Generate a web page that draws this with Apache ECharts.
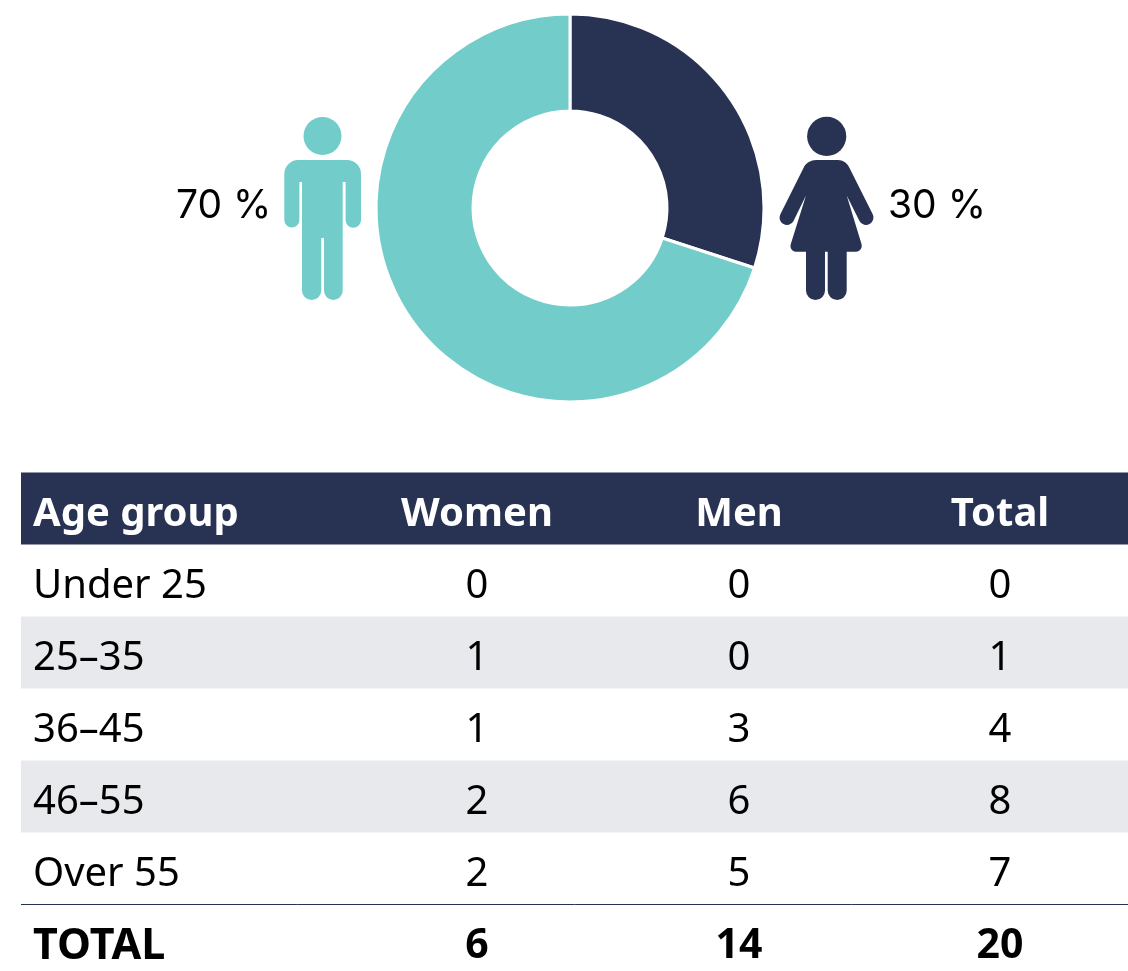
<!DOCTYPE html>
<html><head><meta charset="utf-8">
<style>html,body{margin:0;padding:0;background:#fff}#c{width:1128px;height:971px}</style>
<script src="https://cdn.jsdelivr.net/npm/echarts@6/dist/echarts.min.js"></script>
</head><body><div id="c"></div>
<script>
const shareNames = ['Women', 'Men'];
const shareValues = [30, 70];
const columns = ['Age group', 'Women', 'Men', 'Total'];
const ageGroups = ['Under 25', '25–35', '36–45', '46–55', 'Over 55'];
const women = [0, 1, 1, 2, 2];
const men = [0, 0, 3, 6, 5];
const totals = [0, 1, 4, 8, 7];
const totalRow = ['TOTAL', 6, 14, 20];

const NAVY = '#283252', TEAL = '#72CDCA', STRIPE = '#E8E9ED';
const FONT = '"Noto Sans", sans-serif';
const PCT_FONT = 'Inter, sans-serif';
const rowEdges = [472.5, 544.5, 616.5, 688.5, 760.5, 832.5, 904.5, 976];
const colX = [33, 477, 739, 1000];
const manPath = 'M298 160H347A14 14 0 0 1 361 174V220A7.7 7.7 0 0 1 345.6 220V182H342.7V290.6A9.35 9.35 0 0 1 324 290.6V238H321.3V290.4A9.65 9.65 0 0 1 302 290.4V182H299.4V220A7.55 7.55 0 0 1 284.3 220V174A14 14 0 0 1 298 160Z';
const womanPath = 'M816 160H838C843 160 847 163 849 167L872.6 214C874.5 218 873 222 869.5 224C866 226 861.5 224.5 859.5 221L846.7 195.5L861.5 244C862.5 248 860 251.7 856 251.7H846.7V290.5A9.5 9.5 0 0 1 827.7 290.5V251.7H825V290.5A9.5 9.5 0 0 1 806 290.5V251.7H796C792 251.7 789.7 248 790.8 244L806 195.5L793.5 221C791.5 224.5 787 226 783.5 224C780 222 778.5 218 780.5 214L804 167C806 163 811 160 816 160Z';

const g = [];
function rect(y0, y1, fill) {
  g.push({ type: 'rect', silent: true, shape: { x: 21, y: y0, width: 1107, height: y1 - y0 }, style: { fill } });
}
function text(str, x, yc, align, font, size, weight, fill) {
  g.push({ type: 'text', silent: true, x, y: yc, style: { text: String(str), fill: fill || '#000', font: `${weight} ${size}px ${font}`, align, verticalAlign: 'middle' } });
}
g.push({ type: 'circle', silent: true, shape: { cx: 322.5, cy: 136, r: 19 }, style: { fill: TEAL } });
g.push({ type: 'circle', silent: true, shape: { cx: 826.7, cy: 136.3, r: 19.6 }, style: { fill: NAVY } });
text(shareValues[1] + ' %', 176, 206, 'left', PCT_FONT, 39, 400);
text(shareValues[0] + ' %', 888, 206, 'left', PCT_FONT, 39, 400);

rect(rowEdges[0], rowEdges[1], NAVY);
rect(rowEdges[2], rowEdges[3], STRIPE);
rect(rowEdges[4], rowEdges[5], STRIPE);
g.push({ type: 'line', silent: true, shape: { x1: 21, y1: 904.5, x2: 1128, y2: 904.5 }, style: { stroke: NAVY, lineWidth: 1 } });

const mid = i => (rowEdges[i] + rowEdges[i + 1]) / 2 + 6;
columns.forEach((c, j) => text(c, colX[j], mid(0), j ? 'center' : 'left', FONT, 40, 700, '#fff'));
ageGroups.forEach((a, i) => {
  const yc = mid(i + 1);
  text(a, colX[0], yc, 'left', FONT, 40, 400);
  [women, men, totals].forEach((arr, j) => text(arr[i], colX[j + 1], yc, 'center', FONT, 40, 400));
});
totalRow.forEach((v, j) => text(v, colX[j], 946.5, j ? 'center' : 'left', FONT, j ? 41 : 43, 700));

const chart = echarts.init(document.getElementById('c'), null, { renderer: 'canvas' });
chart.setOption({
  animation: false,
  backgroundColor: '#fff',
  series: [{
    type: 'pie',
    center: [570, 208],
    radius: [97, 194],
    startAngle: 90,
    clockwise: true,
    silent: true,
    label: { show: false },
    labelLine: { show: false },
    itemStyle: { borderColor: '#fff', borderWidth: 3 },
    data: shareNames.map((name, i) => ({ name, value: shareValues[i], itemStyle: { color: i ? TEAL : NAVY } }))
  }, {
    type: 'custom',
    coordinateSystem: 'none',
    silent: true,
    data: [[0]],
    renderItem: () => ({
      type: 'group',
      children: [
        { type: 'path', shape: { pathData: manPath }, style: { fill: TEAL } },
        { type: 'path', shape: { pathData: womanPath }, style: { fill: NAVY } }
      ]
    })
  }],
  graphic: { elements: g }
});
</script></body></html>
